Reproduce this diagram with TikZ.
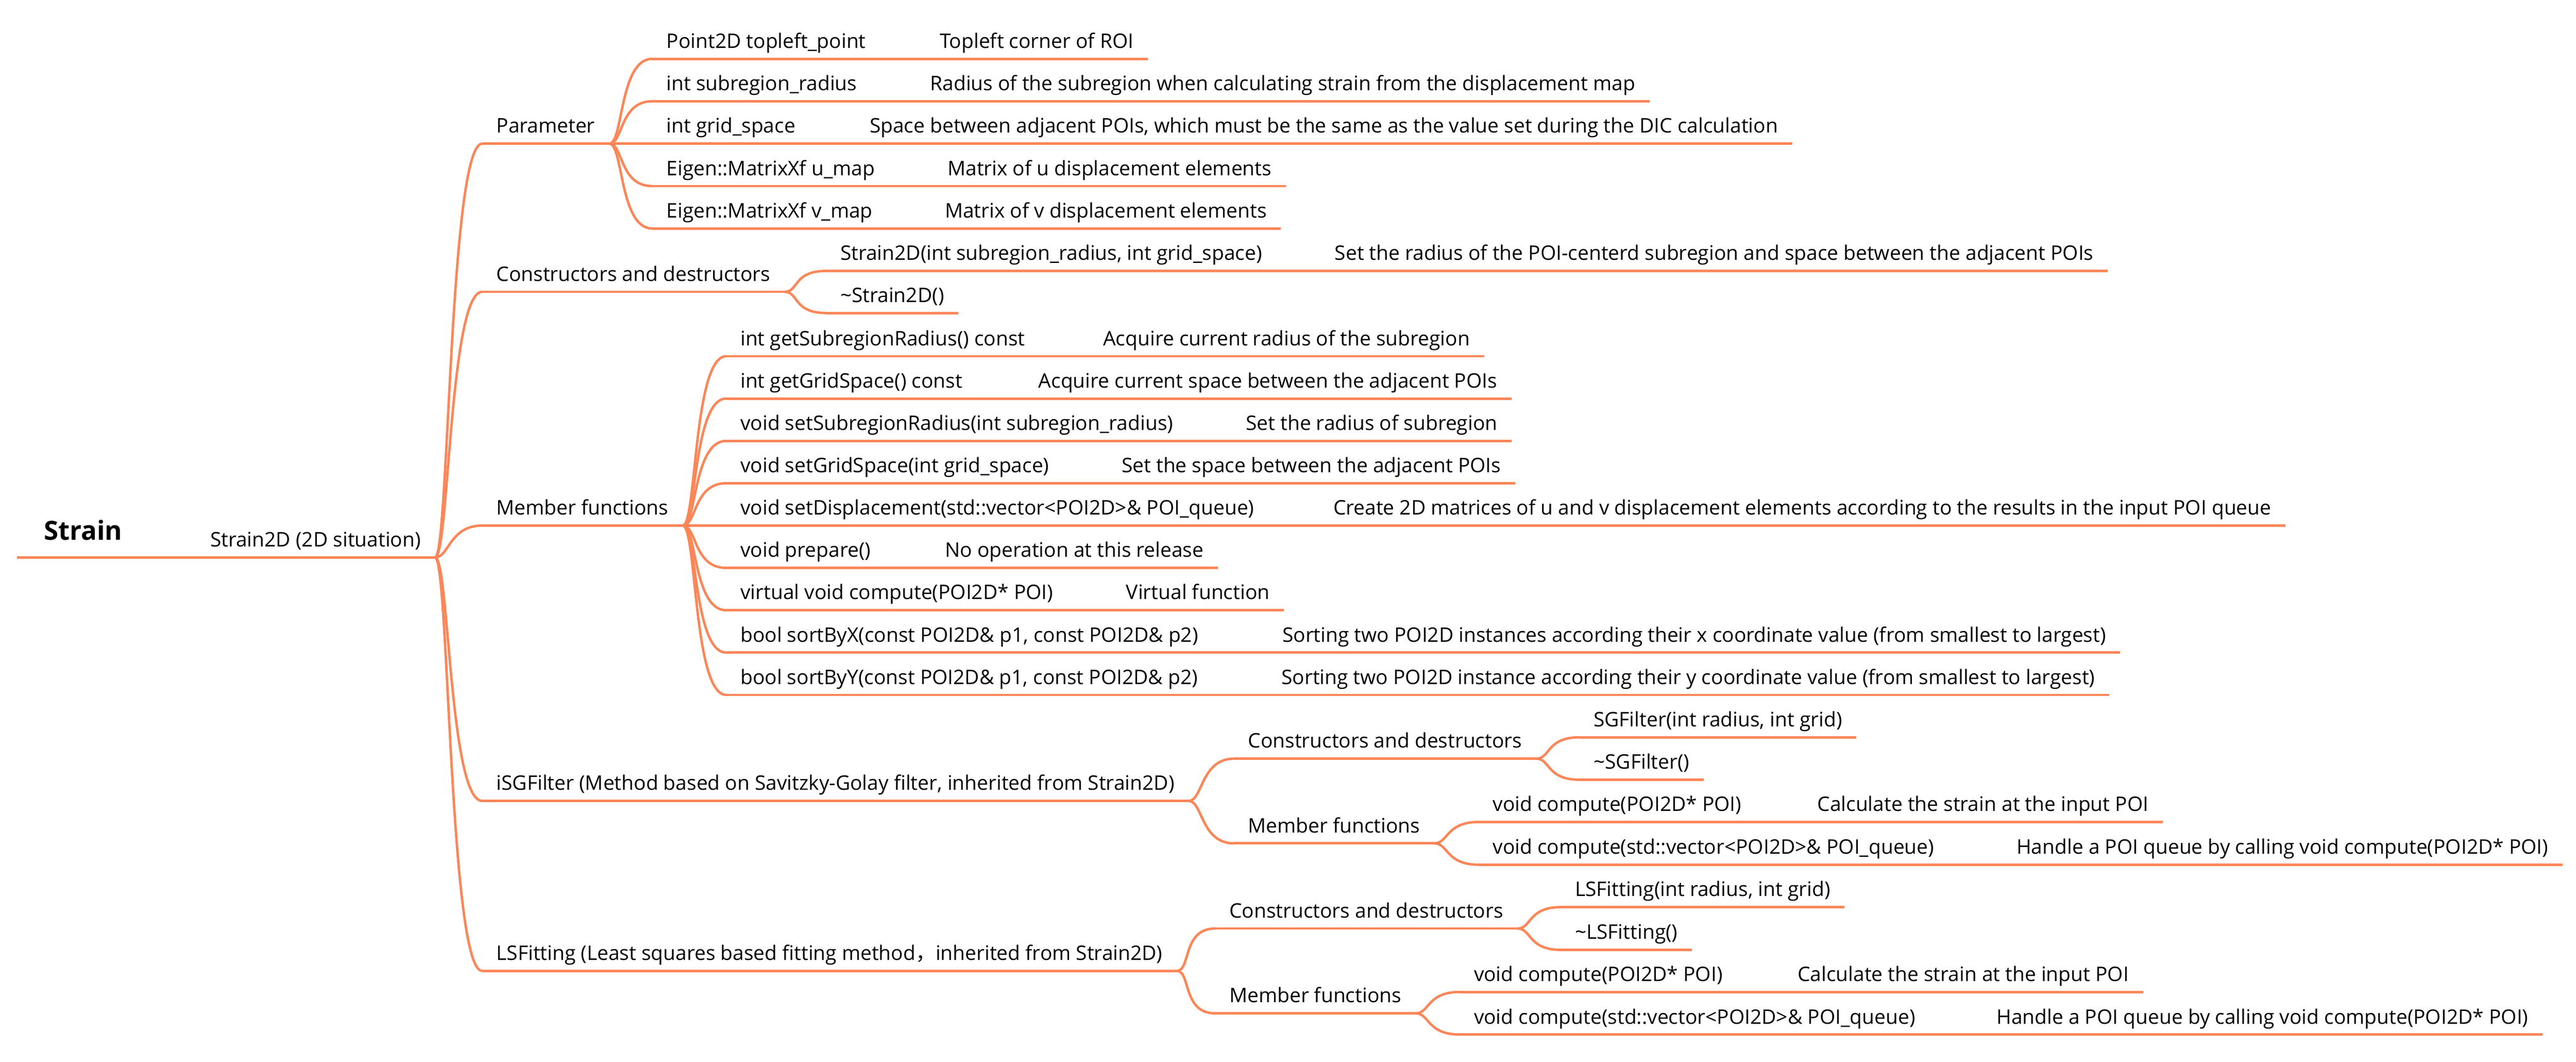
\documentclass[tikz,border=0pt]{standalone}
\usepackage{fontspec}
\setmainfont{Open Sans}
\newfontfamily\cjk{Noto Sans CJK SC}
\usetikzlibrary{calc}

\definecolor{mapline}{RGB}{252,134,88}
\newcommand\mapfont{\fontsize{12.2}{14}\selectfont}

\tikzset{
  topic/.style={anchor=south west, inner xsep=8.5pt, inner ysep=6.3pt,
    text height=9pt, text depth=0pt, font=\mapfont,
    append after command={(\tikzlastnode.south west) edge[mapline, line width=1.5pt] (\tikzlastnode.south east)}},
  central/.style={topic, inner xsep=16pt, inner ysep=10.5pt, text height=12pt,
    font=\fontsize{16}{18}\selectfont\bfseries},
  branch/.style={mapline, line width=1.5pt,
    to path={.. controls +(8.5,0) and +(-20,0) .. (\tikztotarget)}},
}

\begin{document}
\begin{tikzpicture}[x=1pt, y=-1pt]
\useasboundingbox (0,0) rectangle (1568,645.8);

\node[central] (root) at (10.5,339.1) {Strain};
\node[topic] (s2d) at (119.3,339.1) {Strain2D (2D situation)};

% first level
\node[topic] (par) at (293.5,87.4) {Parameter};
\node[topic] (ctor) at (293.5,177.5) {Constructors and destructors};
\node[topic] (mem) at (293.5,319.7) {Member functions};
\node[topic] (isg) at (293.5,487.2) {iSGFilter (Method based on Savitzky-Golay filter, inherited from Strain2D)};
\node[topic] (lsf) at (293.5,590.6) {LSFitting (Least squares based fitting method{\cjk ，}inherited from Strain2D)};

% Parameter
\node[topic] (pa1) at (397,35.8) {Point2D topleft\_point};
\node[topic] (pa1d) at (563.3,35.8) {Topleft corner of ROI};
\node[topic] (pa2) at (397,61.6) {int subregion\_radius};
\node[topic] (pa2d) at (557.5,61.6) {Radius of the subregion when calculating strain from the displacement map};
\node[topic] (pa3) at (397,87.4) {int grid\_space};
\node[topic] (pa3d) at (520.7,87.4) {Space between adjacent POIs, which must be the same as the value set during the DIC calculation};
\node[topic] (pa4) at (397,113.2) {Eigen::MatrixXf u\_map};
\node[topic] (pa4d) at (568.1,113.2) {Matrix of u displacement elements};
\node[topic] (pa5) at (397,139) {Eigen::MatrixXf v\_map};
\node[topic] (pa5d) at (566.5,139) {Matrix of v displacement elements};

% Constructors and destructors
\node[topic] (ct1) at (502.8,164.8) {Strain2D(int subregion\_radius, int grid\_space)};
\node[topic] (ct1d) at (803.8,164.8) {Set the radius of the POI-centerd subregion and space between the adjacent POIs};
\node[topic] (ct2) at (502.8,190.4) {\textasciitilde Strain2D()};

% Member functions
\node[topic] (me1) at (442,216.7) {int getSubregionRadius() const};
\node[topic] (me1d) at (662.8,216.7) {Acquire current radius of the subregion};
\node[topic] (me2) at (442,242.45) {int getGridSpace() const};
\node[topic] (me2d) at (623.5,242.45) {Acquire current space between the adjacent POIs};
\node[topic] (me3) at (442,268.2) {void setSubregionRadius(int subregion\_radius)};
\node[topic] (me3d) at (749.7,268.2) {Set the radius of subregion};
\node[topic] (me4) at (442,293.95) {void setGridSpace(int grid\_space)};
\node[topic] (me4d) at (674.1,293.95) {Set the space between the adjacent POIs};
\node[topic] (me5) at (442,319.7) {void setDisplacement(std::vector<POI2D>\& POI\_queue)};
\node[topic] (me5d) at (802.9,319.7) {Create 2D matrices of u and v displacement elements according to the results in the input POI queue};
\node[topic] (me6) at (442,345.45) {void prepare()};
\node[topic] (me6d) at (566.5,345.45) {No operation at this release};
\node[topic] (me7) at (442,371.2) {virtual void compute(POI2D* POI)};
\node[topic] (me7d) at (676.8,371.2) {Virtual function};
\node[topic] (me8) at (442,396.95) {bool sortByX(const POI2D\& p1, const POI2D\& p2)};
\node[topic] (me8d) at (771.9,396.95) {Sorting two POI2D instances according their x coordinate value (from smallest to largest)};
\node[topic] (me9) at (442,422.7) {bool sortByY(const POI2D\& p1, const POI2D\& p2)};
\node[topic] (me9d) at (771.3,422.7) {Sorting two POI2D instance according their y coordinate value (from smallest to largest)};

% iSGFilter
\node[topic] (isc) at (751,461.5) {Constructors and destructors};
\node[topic] (ism) at (751,513) {Member functions};
\node[topic] (is1) at (961.3,448.5) {SGFilter(int radius, int grid)};
\node[topic] (is2) at (961.3,474.3) {\textasciitilde SGFilter()};
\node[topic] (is3) at (900,500) {void compute(POI2D* POI)};
\node[topic] (is3d) at (1097.5,500) {Calculate the strain at the input POI};
\node[topic] (is4) at (900,526) {void compute(std::vector<POI2D>\& POI\_queue)};
\node[topic] (is4d) at (1218.8,526) {Handle a POI queue by calling void compute(POI2D* POI)};

% LSFitting
\node[topic] (lsc) at (739.6,564.8) {Constructors and destructors};
\node[topic] (lsm) at (739.6,616.4) {Member functions};
\node[topic] (ls1) at (950,551.8) {LSFitting(int radius, int grid)};
\node[topic] (ls2) at (950,577.8) {\textasciitilde LSFitting()};
\node[topic] (ls3) at (888.5,603.4) {void compute(POI2D* POI)};
\node[topic] (ls3d) at (1085.5,603.4) {Calculate the strain at the input POI};
\node[topic] (ls4) at (888.5,629.3) {void compute(std::vector<POI2D>\& POI\_queue)};
\node[topic] (ls4d) at (1206.6,629.3) {Handle a POI queue by calling void compute(POI2D* POI)};

% branches
\foreach \a/\b in {root/s2d, s2d/par, s2d/ctor, s2d/mem, s2d/isg, s2d/lsf,
    par/pa1, par/pa2, par/pa3, par/pa4, par/pa5,
    pa1/pa1d, pa2/pa2d, pa3/pa3d, pa4/pa4d, pa5/pa5d,
    ctor/ct1, ctor/ct2, ct1/ct1d,
    mem/me1, mem/me2, mem/me3, mem/me4, mem/me5, mem/me6, mem/me7, mem/me8, mem/me9,
    me1/me1d, me2/me2d, me3/me3d, me4/me4d, me5/me5d, me6/me6d, me7/me7d, me8/me8d, me9/me9d,
    isg/isc, isg/ism, isc/is1, isc/is2, ism/is3, ism/is4, is3/is3d, is4/is4d,
    lsf/lsc, lsf/lsm, lsc/ls1, lsc/ls2, lsm/ls3, lsm/ls4, ls3/ls3d, ls4/ls4d}
  \draw[branch] (\a.south east) to (\b.south west);

\end{tikzpicture}
\end{document}
